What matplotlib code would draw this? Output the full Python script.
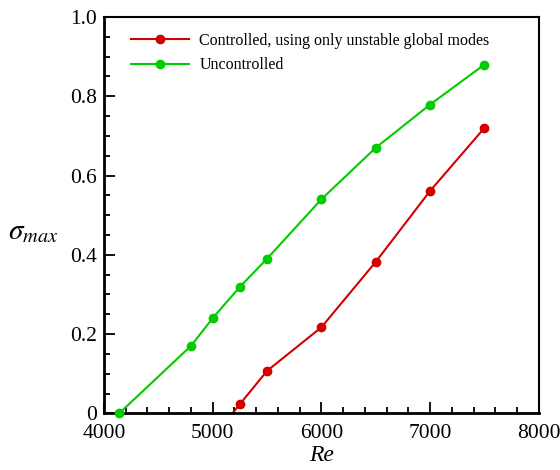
import matplotlib
matplotlib.use("Agg")
import matplotlib.pyplot as plt
from matplotlib.ticker import MultipleLocator, FixedLocator, FixedFormatter

plt.rcParams['font.family'] = ['Liberation Serif', 'DejaVu Serif']
plt.rcParams['mathtext.fontset'] = 'stix'

re_unc = [4140, 4800, 5000, 5250, 5500, 6000, 6500, 7000, 7500]
sig_unc = [0.0, 0.170, 0.240, 0.319, 0.390, 0.540, 0.670, 0.779, 0.880]

re_ctrl = [5250, 5500, 6000, 6500, 7000, 7500]
sig_ctrl = [0.023, 0.107, 0.217, 0.382, 0.561, 0.720]
re_ctrl_ext = [5000]
sig_ctrl_ext = [-0.062]

xticks = [4000, 5000, 6000, 7000, 8000]
xticklabels = ['4000', '5000', '6000', '7000', '8000']
yticks = [0, 0.2, 0.4, 0.6, 0.8, 1.0]
yticklabels = ['0', '0.2', '0.4', '0.6', '0.8', '1.0']

red = '#d40000'
green = '#00cc00'

fig = plt.figure(figsize=(5.6, 4.7), dpi=100)
ax = fig.add_axes([0.1857, 0.1206, 0.962 - 0.1857, 0.9638 - 0.1206])

ax.plot(re_ctrl_ext + re_ctrl, sig_ctrl_ext + sig_ctrl, color=red, lw=1.5, zorder=2)
ax.plot(re_ctrl, sig_ctrl, color=red, lw=0, marker='o', ms=6, zorder=3)
ax.plot(re_unc, sig_unc, color=green, lw=1.5, marker='o', ms=6, zorder=3, clip_on=False)

ax.plot([], [], color=red, lw=1.5, marker='o', ms=6,
        label='Controlled, using only unstable global modes')
ax.plot([], [], color=green, lw=1.5, marker='o', ms=6, label='Uncontrolled')

ax.set_xlim(4000, 8000)
ax.set_ylim(0, 1.0)
ax.xaxis.set_major_locator(FixedLocator(xticks))
ax.xaxis.set_major_formatter(FixedFormatter(xticklabels))
ax.yaxis.set_major_locator(FixedLocator(yticks))
ax.yaxis.set_major_formatter(FixedFormatter(yticklabels))
ax.xaxis.set_minor_locator(MultipleLocator(200))
ax.yaxis.set_minor_locator(MultipleLocator(0.05))
ax.tick_params(which='both', direction='in', top=False, right=False, labelsize=15.5, width=1.3)
ax.tick_params(which='major', length=8)
ax.tick_params(which='minor', length=4.3)
ax.tick_params(axis='x', pad=8)
ax.tick_params(axis='y', pad=5)

for s in ['left', 'bottom']:
    ax.spines[s].set_linewidth(2.0)
for s in ['top', 'right']:
    ax.spines[s].set_linewidth(1.5)

ax.set_xlabel('Re', fontsize=17, fontstyle='italic')
ax.xaxis.set_label_coords(0.5, -0.079)
ax.set_ylabel(r'$\sigma_{max}$', fontsize=21, rotation=0)
ax.yaxis.set_label_coords(-0.162, 0.425)

leg = ax.legend(loc='upper left', bbox_to_anchor=(0.03, 0.997), frameon=False,
                fontsize=11.5, handlelength=3.6, handletextpad=0.65, labelspacing=0.55)

fig.savefig('out.png', dpi=100)
